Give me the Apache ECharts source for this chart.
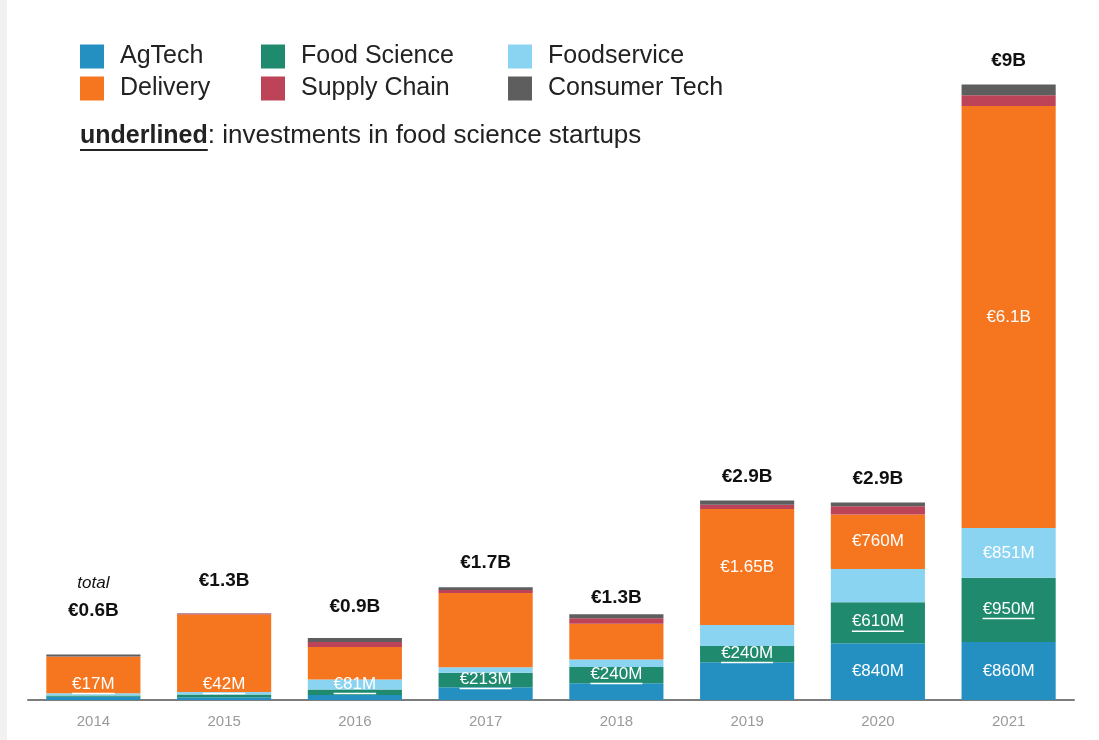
<!DOCTYPE html>
<html>
<head>
<meta charset="utf-8">
<script src="https://cdn.jsdelivr.net/npm/echarts@6/dist/echarts.min.js"></script>
<style>
html,body{margin:0;padding:0;background:#fff;}
#chart{width:1099px;height:740px;}
</style>
</head>
<body>
<div id="chart"></div>
<script>
// ---- data (EUR millions) ----
const years = ['2014','2015','2016','2017','2018','2019','2020','2021'];
const agtech       = [49, 40, 74, 190, 250, 560, 840, 860];
const foodScience  = [17, 42, 81, 213, 240, 240, 610, 950];
const foodservice  = [34, 35, 150, 84, 110, 310, 490, 740];
const delivery     = [540, 1150, 480, 1100, 530, 1720, 810, 6250];
const supplyChain  = [3, 15, 74, 44, 80, 64, 120, 160];
const consumerTech = [30, 5, 60, 40, 60, 60, 55, 160];

// ---- label texts ----
const agLabels    = ['', '', '', '', '', '', '€840M', '€860M'];
const fsLabels    = ['€17M', '€42M', '€81M', '€213M', '€240M', '€240M', '€610M', '€950M'];
const fsvLabels   = ['', '', '', '', '', '', '', '€851M'];
const delLabels   = ['', '', '', '', '', '€1.65B', '€760M', '€6.1B'];
const totalLabels = ['€0.6B', '€1.3B', '€0.9B', '€1.7B', '€1.3B', '€2.9B', '€2.9B', '€9B'];

const FONT = '"Liberation Sans", Arial, Helvetica, sans-serif';
const colors = {
  ag: '#2490c2', fs: '#1f8a6d', fsv: '#8ad4f1', del: '#f6751f', sc: '#bd4359', ct: '#5e5e5e'
};

const Y_MAX = 10000;
const GRID = {left: 28, right: 25, top: 25, bottom: 40};
const plotH = 740 - GRID.top - GRID.bottom;
const pxPerUnit = plotH / Y_MAX;

const mctx = document.createElement('canvas').getContext('2d');
function textW(s, font) { mctx.font = font; return mctx.measureText(s).width; }

const inLabelStyle = {color: '#fff', fontSize: 17, fontFamily: FONT};

function simpleLabels(values, labels) {
  return values.map((v, i) => labels[i] ? {value: v, label: {show: true, position: 'inside', formatter: labels[i], ...inLabelStyle}} : v);
}

// food-science labels: underlined, kept at least a little above the baseline
const fsData = foodScience.map((v, i) => {
  const txt = fsLabels[i];
  const w = textW(txt, '17px ' + FONT);
  const centerPx = (agtech[i] + v / 2) * pxPerUnit;
  const desired = Math.max(centerPx, 15);
  return {
    value: v,
    label: {
      show: true, position: 'inside',
      offset: [0, centerPx - desired],
      formatter: '{t|' + txt + '}\n{u|}',
      rich: {
        t: {color: '#fff', fontSize: 17, fontFamily: FONT, lineHeight: 17},
        u: {width: w, height: 1.5, lineHeight: 2, backgroundColor: '#fff'}
      }
    }
  };
});

const totalNudge = [-20, -8, -7, 0, 7, 0, 0, 0];
const ctData = consumerTech.map((v, i) => {
  const isFirst = i === 0;
  return {
    value: v,
    label: {
      show: true, position: 'top', distance: 14,
      offset: [0, totalNudge[i]],
      formatter: isFirst ? '{i|total}\n{b|' + totalLabels[i] + '}' : '{b|' + totalLabels[i] + '}',
      rich: {
        i: {fontSize: 17, fontStyle: 'italic', color: '#111', fontFamily: FONT, lineHeight: 34},
        b: {fontSize: 19, fontWeight: 'bold', color: '#111', fontFamily: FONT, lineHeight: 20}
      }
    }
  };
});

function bar(name, data, color) {
  return {name, type: 'bar', stack: 'total', barWidth: '72%', data, itemStyle: {color}, emphasis: {disabled: true}};
}

const legendText = {fontSize: 25, color: '#222', fontFamily: FONT, padding: [0, 0, 0, 11]};
function legendCol(left, items) {
  return {left, top: 39, orient: 'vertical', itemWidth: 24, itemHeight: 24, itemGap: 7, icon: 'rect',
    data: items, textStyle: legendText, selectedMode: false};
}

const ulW = textW('underlined', 'bold 25px ' + FONT);

const option = {
  backgroundColor: '#fff',
  animation: false,
  title: {
    left: 75, top: 118,
    text: '{b|underlined}{r|: investments in food science startups}\n{u|}',
    textStyle: {
      fontWeight: 'normal',
      rich: {
        b: {fontSize: 25, fontWeight: 'bold', color: '#222', fontFamily: FONT, lineHeight: 26},
        r: {fontSize: 26, fontWeight: 'normal', color: '#222', fontFamily: FONT, lineHeight: 26},
        u: {width: ulW, height: 2, lineHeight: 2, backgroundColor: '#222'}
      }
    }
  },
  legend: [
    legendCol(75, ['AgTech', 'Delivery']),
    legendCol(256, ['Food Science', 'Supply Chain']),
    legendCol(503, ['Foodservice', 'Consumer Tech'])
  ],
  graphic: [{type: 'rect', left: 0, top: 0, shape: {width: 7, height: 740}, style: {fill: '#f1f1f1'}, silent: true}],
  grid: GRID,
  xAxis: {
    type: 'category', data: years,
    axisLine: {lineStyle: {color: '#7d7d7d', width: 2}},
    axisTick: {show: false},
    axisLabel: {color: '#9a9a9a', fontSize: 15, fontFamily: FONT, margin: 14}
  },
  yAxis: {type: 'value', min: 0, max: Y_MAX, show: false, splitLine: {show: false}},
  series: [
    bar('AgTech', simpleLabels(agtech, agLabels), colors.ag),
    bar('Food Science', fsData, colors.fs),
    bar('Foodservice', simpleLabels(foodservice, fsvLabels), colors.fsv),
    bar('Delivery', simpleLabels(delivery, delLabels), colors.del),
    bar('Supply Chain', supplyChain, colors.sc),
    bar('Consumer Tech', ctData, colors.ct)
  ]
};

const chart = echarts.init(document.getElementById('chart'), null, {renderer: 'canvas'});
chart.setOption(option);
</script>
</body>
</html>
